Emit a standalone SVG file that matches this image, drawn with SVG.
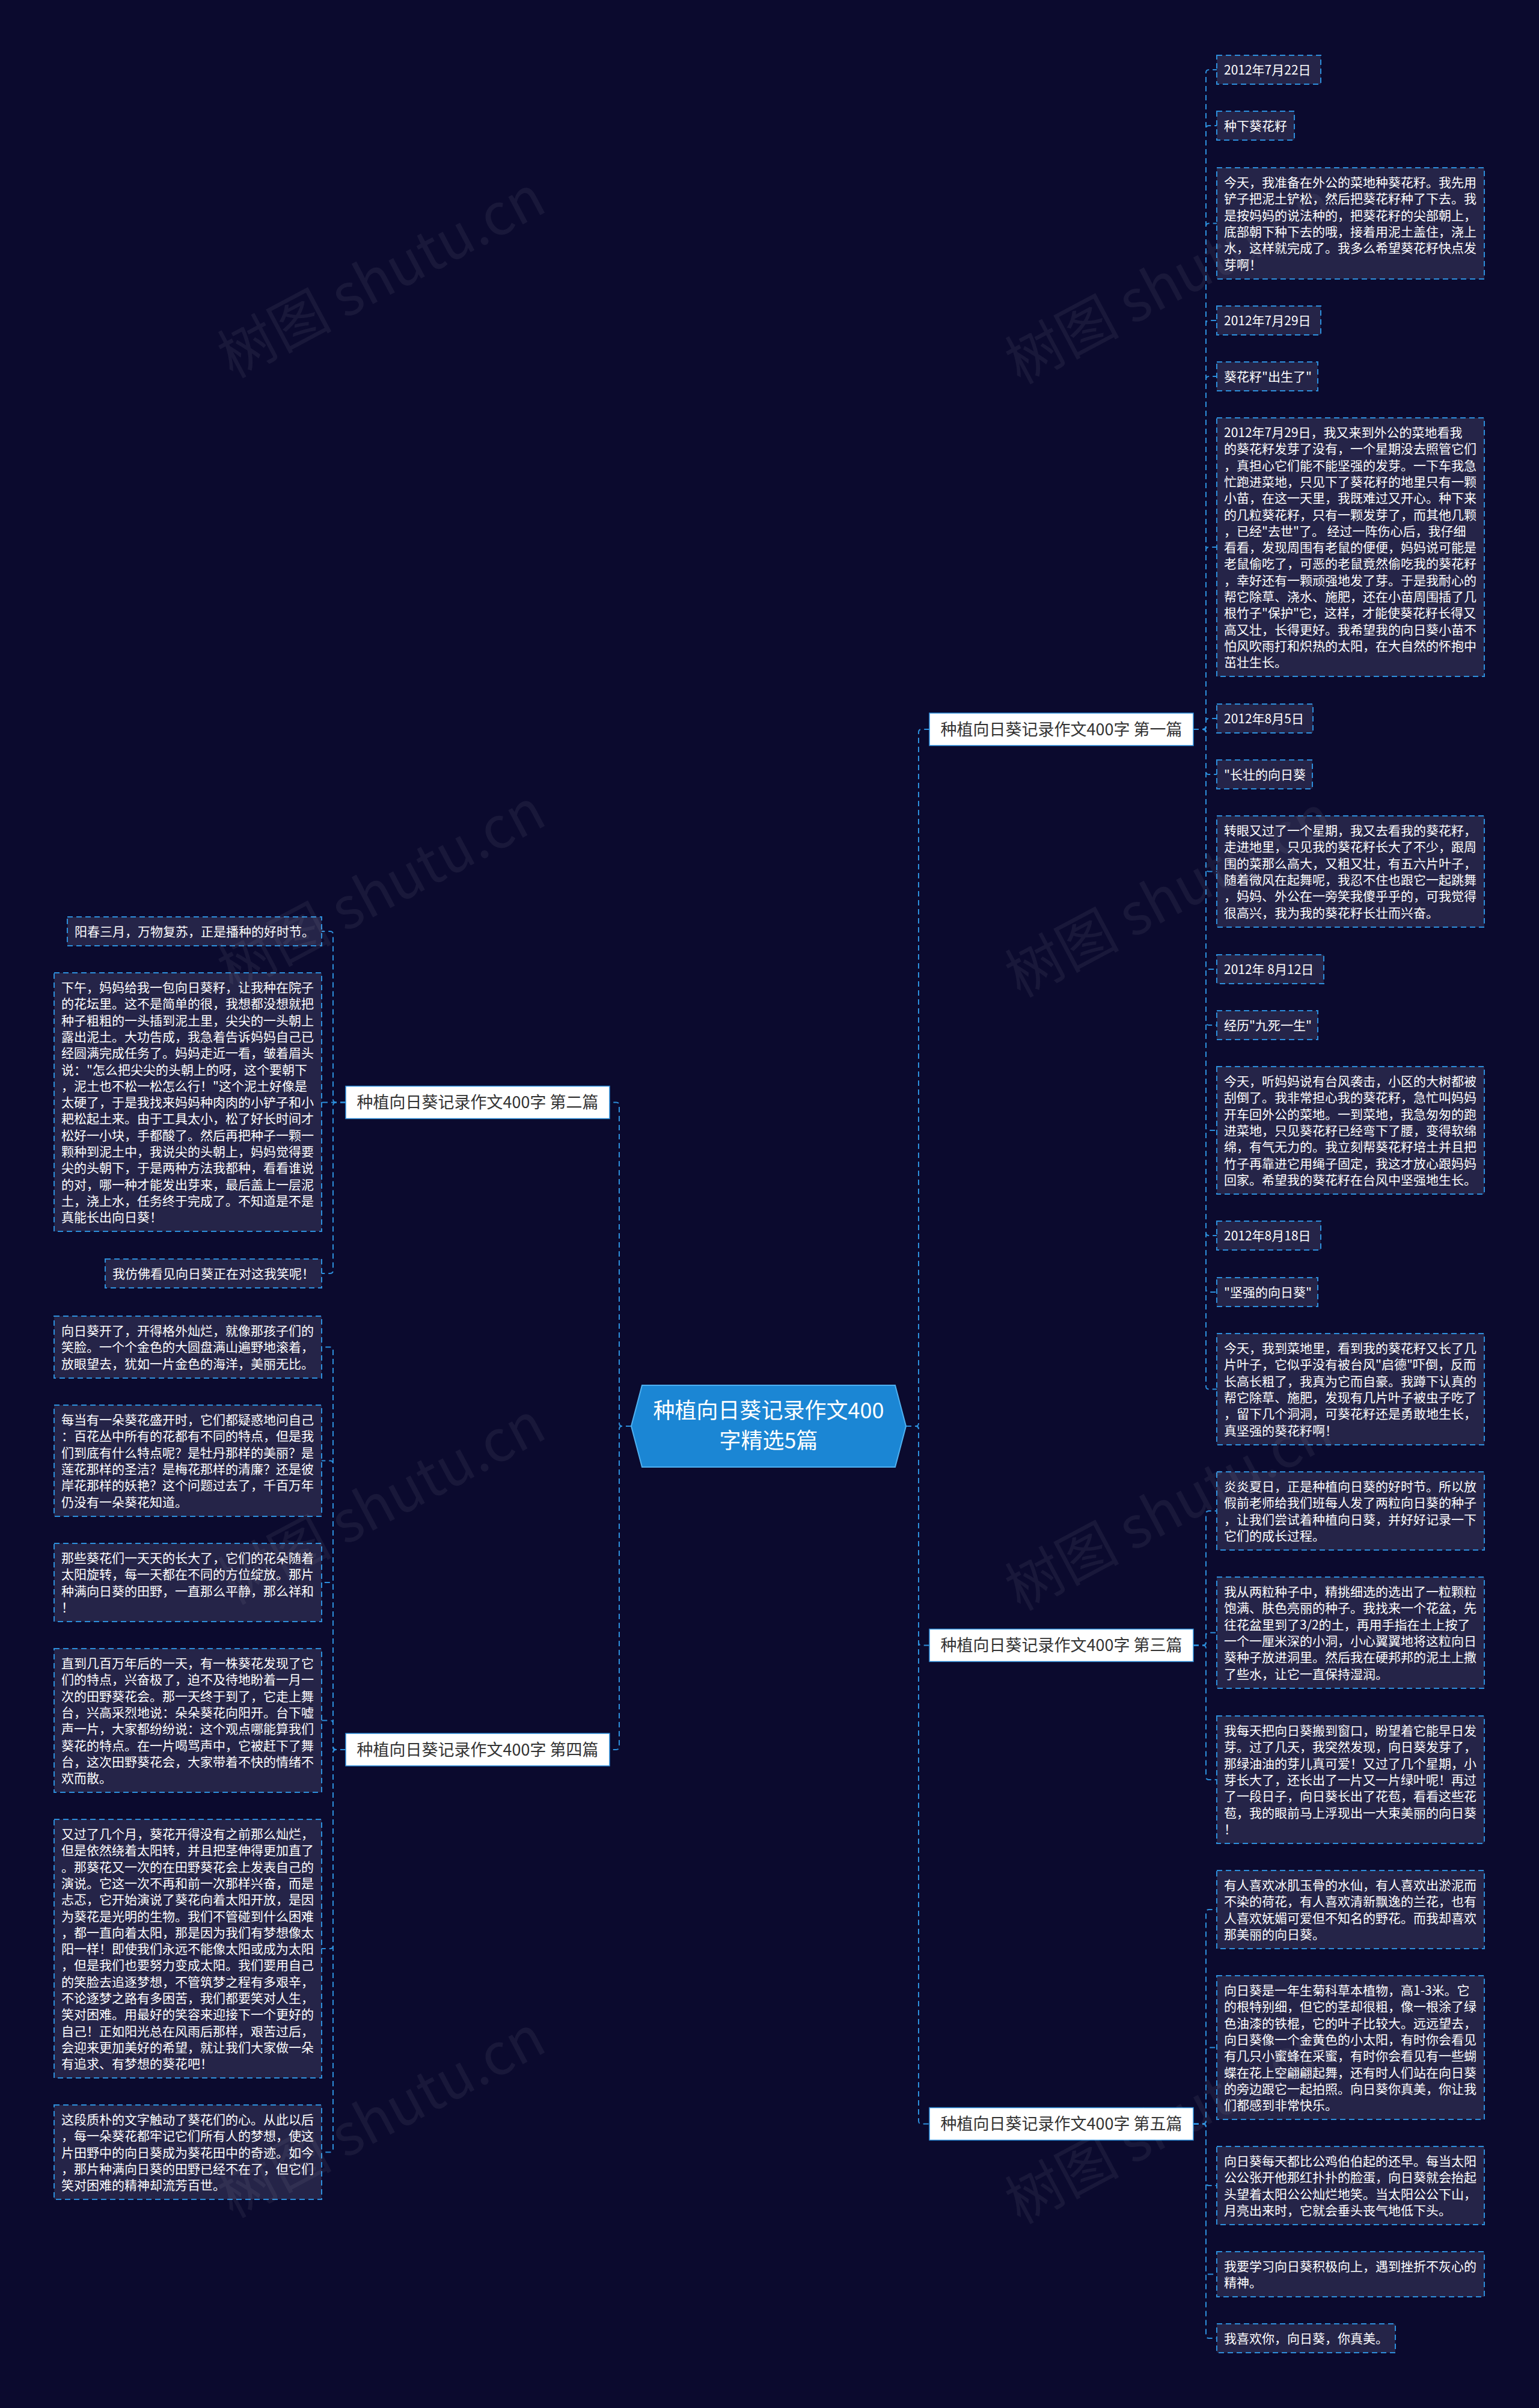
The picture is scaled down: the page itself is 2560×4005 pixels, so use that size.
<svg xmlns="http://www.w3.org/2000/svg" width="2560" height="4005" viewBox="0 0 2560 4005">
<style>
.bg{fill:#0b0a2e}
.box{fill:#252448;stroke:#2d8fdc;stroke-width:2;stroke-dasharray:9 6}
.t{font-family:"Noto Sans CJK SC","Noto Sans",sans-serif;font-size:21px;fill:#ffffff}
.conn{fill:none;stroke:#2d8fdc;stroke-width:2;stroke-dasharray:9 6}
.br{fill:#ffffff;stroke:#2d8fdc;stroke-width:1.5}
.bt{font-family:"Noto Sans CJK SC","Noto Sans",sans-serif;font-size:27px;fill:#333333;text-anchor:middle}
.ct{font-family:"Noto Sans CJK SC","Noto Sans",sans-serif;font-size:36px;fill:#ffffff;text-anchor:middle}
.wm{font-family:"Noto Sans CJK SC","Noto Sans",sans-serif;font-size:95px;fill:#ffffff;fill-opacity:0.06}
</style>
<rect class="bg" x="0" y="0" width="2560" height="4005"/>

<g id="connectors">
<path class="conn" d="M1507,2372 H1523 Q1528,2372 1528,2367 V1218 Q1528,1213 1533,1213 H1546"/>
<path class="conn" d="M1507,2372 H1523 Q1528,2372 1528,2377 V2731.5 Q1528,2736.5 1533,2736.5 H1546"/>
<path class="conn" d="M1507,2372 H1523 Q1528,2372 1528,2377 V3527.5 Q1528,3532.5 1533,3532.5 H1546"/>
<path class="conn" d="M1050,2372 H1035 Q1030,2372 1030,2367 V1838.5 Q1030,1833.5 1025,1833.5 H1014"/>
<path class="conn" d="M1050,2372 H1035 Q1030,2372 1030,2377 V2905 Q1030,2910 1025,2910 H1014"/>
<path class="conn" d="M1985,1213 H2001 Q2006,1213 2006,1208 V121 Q2006,116 2011,116 H2024"/>
<path class="conn" d="M1985,1213 H2001 Q2006,1213 2006,1208 V214 Q2006,209 2011,209 H2024"/>
<path class="conn" d="M1985,1213 H2001 Q2006,1213 2006,1208 V376.5 Q2006,371.5 2011,371.5 H2024"/>
<path class="conn" d="M1985,1213 H2001 Q2006,1213 2006,1208 V538 Q2006,533 2011,533 H2024"/>
<path class="conn" d="M1985,1213 H2001 Q2006,1213 2006,1208 V631 Q2006,626 2011,626 H2024"/>
<path class="conn" d="M1985,1213 H2001 Q2006,1213 2006,1208 V915 Q2006,910 2011,910 H2024"/>
<path class="conn" d="M1985,1213 H2001 Q2006,1213 2006,1208 V1200 Q2006,1195 2011,1195 H2024"/>
<path class="conn" d="M1985,1213 H2001 Q2006,1213 2006,1218 V1283 Q2006,1288 2011,1288 H2024"/>
<path class="conn" d="M1985,1213 H2001 Q2006,1213 2006,1218 V1444.5 Q2006,1449.5 2011,1449.5 H2024"/>
<path class="conn" d="M1985,1213 H2001 Q2006,1213 2006,1218 V1607 Q2006,1612 2011,1612 H2024"/>
<path class="conn" d="M1985,1213 H2001 Q2006,1213 2006,1218 V1700 Q2006,1705 2011,1705 H2024"/>
<path class="conn" d="M1985,1213 H2001 Q2006,1213 2006,1218 V1875 Q2006,1880 2011,1880 H2024"/>
<path class="conn" d="M1985,1213 H2001 Q2006,1213 2006,1218 V2050 Q2006,2055 2011,2055 H2024"/>
<path class="conn" d="M1985,1213 H2001 Q2006,1213 2006,1218 V2144 Q2006,2149 2011,2149 H2024"/>
<path class="conn" d="M1985,1213 H2001 Q2006,1213 2006,1218 V2305.5 Q2006,2310.5 2011,2310.5 H2024"/>
<path class="conn" d="M1985,2736.5 H2001 Q2006,2736.5 2006,2731.5 V2518 Q2006,2513 2011,2513 H2024"/>
<path class="conn" d="M1985,2736.5 H2001 Q2006,2736.5 2006,2731.5 V2720.5 Q2006,2715.5 2011,2715.5 H2024"/>
<path class="conn" d="M1985,2736.5 H2001 Q2006,2736.5 2006,2741.5 V2955 Q2006,2960 2011,2960 H2024"/>
<path class="conn" d="M1985,3532.5 H2001 Q2006,3532.5 2006,3527.5 V3181 Q2006,3176 2011,3176 H2024"/>
<path class="conn" d="M1985,3532.5 H2001 Q2006,3532.5 2006,3527.5 V3410.5 Q2006,3405.5 2011,3405.5 H2024"/>
<path class="conn" d="M1985,3532.5 H2001 Q2006,3532.5 2006,3537.5 V3630 Q2006,3635 2011,3635 H2024"/>
<path class="conn" d="M1985,3532.5 H2001 Q2006,3532.5 2006,3537.5 V3777.5 Q2006,3782.5 2011,3782.5 H2024"/>
<path class="conn" d="M1985,3532.5 H2001 Q2006,3532.5 2006,3537.5 V3884 Q2006,3889 2011,3889 H2024"/>
<path class="conn" d="M575,1833.5 H559 Q554,1833.5 554,1828.5 V1554 Q554,1549 549,1549 H535"/>
<path class="conn" d="M575,1833.5 H535"/>
<path class="conn" d="M575,1833.5 H559 Q554,1833.5 554,1838.5 V2113 Q554,2118 549,2118 H535"/>
<path class="conn" d="M575,2910 H559 Q554,2910 554,2905 V2245.5 Q554,2240.5 549,2240.5 H535"/>
<path class="conn" d="M575,2910 H559 Q554,2910 554,2905 V2434.5 Q554,2429.5 549,2429.5 H535"/>
<path class="conn" d="M575,2910 H559 Q554,2910 554,2905 V2637 Q554,2632 549,2632 H535"/>
<path class="conn" d="M575,2910 H559 Q554,2910 554,2905 V2866.5 Q554,2861.5 549,2861.5 H535"/>
<path class="conn" d="M575,2910 H559 Q554,2910 554,2915 V3236 Q554,3241 549,3241 H535"/>
<path class="conn" d="M575,2910 H559 Q554,2910 554,2915 V3574.5 Q554,3579.5 549,3579.5 H535"/>
</g>

<g id="center">
<polygon points="1050,2372 1068,2304 1489,2304 1507,2372 1489,2440 1068,2440" fill="#1b86d4" stroke="#4fb0f0" stroke-width="2"/>
<text class="ct" x="1278.5" y="2359">种植向日葵记录作文400</text>
<text class="ct" x="1278.5" y="2409">字精选5篇</text>
</g>

<g id="branch1"><rect class="br" x="1546" y="1186" width="439" height="54"/><text class="bt" x="1765.5" y="1222.5">种植向日葵记录作文400字 第一篇</text></g>
<g id="branch3"><rect class="br" x="1546" y="2709.5" width="439" height="54"/><text class="bt" x="1765.5" y="2746">种植向日葵记录作文400字 第三篇</text></g>
<g id="branch5"><rect class="br" x="1546" y="3505.5" width="439" height="54"/><text class="bt" x="1765.5" y="3542">种植向日葵记录作文400字 第五篇</text></g>
<g id="branch2"><rect class="br" x="575" y="1806.5" width="439" height="54"/><text class="bt" x="794.5" y="1843">种植向日葵记录作文400字 第二篇</text></g>
<g id="branch4"><rect class="br" x="575" y="2883" width="439" height="54"/><text class="bt" x="794.5" y="2919.5">种植向日葵记录作文400字 第四篇</text></g>

<g id="r1"><rect class="box" x="2024" y="92" width="173" height="48"/><text class="t" x="2036" y="124">2012年7月22日</text></g>
<g id="r2"><rect class="box" x="2024" y="185" width="129" height="48"/><text class="t" x="2036" y="217">种下葵花籽</text></g>
<g id="r3"><rect class="box" x="2024" y="279" width="445" height="185"/><text class="t" x="2036" y="311"><tspan x="2036">今天，我准备在外公的菜地种葵花籽。我先用</tspan><tspan x="2036" dy="27.3">铲子把泥土铲松，然后把葵花籽种了下去。我</tspan><tspan x="2036" dy="27.3">是按妈妈的说法种的，把葵花籽的尖部朝上，</tspan><tspan x="2036" dy="27.3">底部朝下种下去的哦，接着用泥土盖住，浇上</tspan><tspan x="2036" dy="27.3">水，这样就完成了。我多么希望葵花籽快点发</tspan><tspan x="2036" dy="27.3">芽啊！</tspan></text></g>
<g id="r4"><rect class="box" x="2024" y="509" width="173" height="48"/><text class="t" x="2036" y="541">2012年7月29日</text></g>
<g id="r5"><rect class="box" x="2024" y="602" width="168" height="48"/><text class="t" x="2036" y="634">葵花籽"出生了"</text></g>
<g id="r6"><rect class="box" x="2024" y="695" width="445" height="430"/><text class="t" x="2036" y="727"><tspan x="2036">2012年7月29日，我又来到外公的菜地看我</tspan><tspan x="2036" dy="27.3">的葵花籽发芽了没有，一个星期没去照管它们</tspan><tspan x="2036" dy="27.3">，真担心它们能不能坚强的发芽。一下车我急</tspan><tspan x="2036" dy="27.3">忙跑进菜地，只见下了葵花籽的地里只有一颗</tspan><tspan x="2036" dy="27.3">小苗，在这一天里，我既难过又开心。种下来</tspan><tspan x="2036" dy="27.3">的几粒葵花籽，只有一颗发芽了，而其他几颗</tspan><tspan x="2036" dy="27.3">，已经"去世"了。 经过一阵伤心后，我仔细</tspan><tspan x="2036" dy="27.3">看看，发现周围有老鼠的便便，妈妈说可能是</tspan><tspan x="2036" dy="27.3">老鼠偷吃了，可恶的老鼠竟然偷吃我的葵花籽</tspan><tspan x="2036" dy="27.3">，幸好还有一颗顽强地发了芽。于是我耐心的</tspan><tspan x="2036" dy="27.3">帮它除草、浇水、施肥，还在小苗周围插了几</tspan><tspan x="2036" dy="27.3">根竹子"保护"它，这样，才能使葵花籽长得又</tspan><tspan x="2036" dy="27.3">高又壮，长得更好。我希望我的向日葵小苗不</tspan><tspan x="2036" dy="27.3">怕风吹雨打和炽热的太阳，在大自然的怀抱中</tspan><tspan x="2036" dy="27.3">茁壮生长。</tspan></text></g>
<g id="r7"><rect class="box" x="2024" y="1171" width="160" height="48"/><text class="t" x="2036" y="1203">2012年8月5日</text></g>
<g id="r8"><rect class="box" x="2024" y="1264" width="159" height="48"/><text class="t" x="2036" y="1296">"长壮的向日葵</text></g>
<g id="r9"><rect class="box" x="2024" y="1357" width="445" height="185"/><text class="t" x="2036" y="1389"><tspan x="2036">转眼又过了一个星期，我又去看我的葵花籽，</tspan><tspan x="2036" dy="27.3">走进地里，只见我的葵花籽长大了不少，跟周</tspan><tspan x="2036" dy="27.3">围的菜那么高大，又粗又壮，有五六片叶子，</tspan><tspan x="2036" dy="27.3">随着微风在起舞呢，我忍不住也跟它一起跳舞</tspan><tspan x="2036" dy="27.3">，妈妈、外公在一旁笑我傻乎乎的，可我觉得</tspan><tspan x="2036" dy="27.3">很高兴，我为我的葵花籽长壮而兴奋。</tspan></text></g>
<g id="r10"><rect class="box" x="2024" y="1588" width="178" height="48"/><text class="t" x="2036" y="1620">2012年 8月12日</text></g>
<g id="r11"><rect class="box" x="2024" y="1681" width="168" height="48"/><text class="t" x="2036" y="1713">经历"九死一生"</text></g>
<g id="r12"><rect class="box" x="2024" y="1774" width="445" height="212"/><text class="t" x="2036" y="1806"><tspan x="2036">今天，听妈妈说有台风袭击，小区的大树都被</tspan><tspan x="2036" dy="27.3">刮倒了。我非常担心我的葵花籽，急忙叫妈妈</tspan><tspan x="2036" dy="27.3">开车回外公的菜地。一到菜地，我急匆匆的跑</tspan><tspan x="2036" dy="27.3">进菜地，只见葵花籽已经弯下了腰，变得软绵</tspan><tspan x="2036" dy="27.3">绵，有气无力的。我立刻帮葵花籽培土并且把</tspan><tspan x="2036" dy="27.3">竹子再靠进它用绳子固定，我这才放心跟妈妈</tspan><tspan x="2036" dy="27.3">回家。希望我的葵花籽在台风中坚强地生长。</tspan></text></g>
<g id="r13"><rect class="box" x="2024" y="2031" width="173" height="48"/><text class="t" x="2036" y="2063">2012年8月18日</text></g>
<g id="r14"><rect class="box" x="2024" y="2125" width="168" height="48"/><text class="t" x="2036" y="2157">"坚强的向日葵"</text></g>
<g id="r15"><rect class="box" x="2024" y="2218" width="445" height="185"/><text class="t" x="2036" y="2250"><tspan x="2036">今天，我到菜地里，看到我的葵花籽又长了几</tspan><tspan x="2036" dy="27.3">片叶子，它似乎没有被台风"启德"吓倒，反而</tspan><tspan x="2036" dy="27.3">长高长粗了，我真为它而自豪。我蹲下认真的</tspan><tspan x="2036" dy="27.3">帮它除草、施肥，发现有几片叶子被虫子吃了</tspan><tspan x="2036" dy="27.3">，留下几个洞洞，可葵花籽还是勇敢地生长，</tspan><tspan x="2036" dy="27.3">真坚强的葵花籽啊！</tspan></text></g>

<g id="r16"><rect class="box" x="2024" y="2448" width="445" height="130"/><text class="t" x="2036" y="2480"><tspan x="2036">炎炎夏日，正是种植向日葵的好时节。所以放</tspan><tspan x="2036" dy="27.3">假前老师给我们班每人发了两粒向日葵的种子</tspan><tspan x="2036" dy="27.3">，让我们尝试着种植向日葵，并好好记录一下</tspan><tspan x="2036" dy="27.3">它们的成长过程。</tspan></text></g>
<g id="r17"><rect class="box" x="2024" y="2623" width="445" height="185"/><text class="t" x="2036" y="2655"><tspan x="2036">我从两粒种子中，精挑细选的选出了一粒颗粒</tspan><tspan x="2036" dy="27.3">饱满、肤色亮丽的种子。我找来一个花盆，先</tspan><tspan x="2036" dy="27.3">往花盆里到了3/2的土，再用手指在土上按了</tspan><tspan x="2036" dy="27.3">一个一厘米深的小洞，小心翼翼地将这粒向日</tspan><tspan x="2036" dy="27.3">葵种子放进洞里。然后我在硬邦邦的泥土上撒</tspan><tspan x="2036" dy="27.3">了些水，让它一直保持湿润。</tspan></text></g>
<g id="r18"><rect class="box" x="2024" y="2854" width="445" height="212"/><text class="t" x="2036" y="2886"><tspan x="2036">我每天把向日葵搬到窗口，盼望着它能早日发</tspan><tspan x="2036" dy="27.3">芽。过了几天，我突然发现，向日葵发芽了，</tspan><tspan x="2036" dy="27.3">那绿油油的芽儿真可爱！又过了几个星期，小</tspan><tspan x="2036" dy="27.3">芽长大了，还长出了一片又一片绿叶呢！再过</tspan><tspan x="2036" dy="27.3">了一段日子，向日葵长出了花苞，看看这些花</tspan><tspan x="2036" dy="27.3">苞，我的眼前马上浮现出一大束美丽的向日葵</tspan><tspan x="2036" dy="27.3">！</tspan></text></g>

<g id="r19"><rect class="box" x="2024" y="3111" width="445" height="130"/><text class="t" x="2036" y="3143"><tspan x="2036">有人喜欢冰肌玉骨的水仙，有人喜欢出淤泥而</tspan><tspan x="2036" dy="27.3">不染的荷花，有人喜欢清新飘逸的兰花，也有</tspan><tspan x="2036" dy="27.3">人喜欢妩媚可爱但不知名的野花。而我却喜欢</tspan><tspan x="2036" dy="27.3">那美丽的向日葵。</tspan></text></g>
<g id="r20"><rect class="box" x="2024" y="3286" width="445" height="239"/><text class="t" x="2036" y="3318"><tspan x="2036">向日葵是一年生菊科草本植物，高1-3米。它</tspan><tspan x="2036" dy="27.3">的根特别细，但它的茎却很粗，像一根涂了绿</tspan><tspan x="2036" dy="27.3">色油漆的铁棍，它的叶子比较大。远远望去，</tspan><tspan x="2036" dy="27.3">向日葵像一个金黄色的小太阳，有时你会看见</tspan><tspan x="2036" dy="27.3">有几只小蜜蜂在采蜜，有时你会看见有一些蝴</tspan><tspan x="2036" dy="27.3">蝶在花上空翩翩起舞，还有时人们站在向日葵</tspan><tspan x="2036" dy="27.3">的旁边跟它一起拍照。向日葵你真美，你让我</tspan><tspan x="2036" dy="27.3">们都感到非常快乐。</tspan></text></g>
<g id="r21"><rect class="box" x="2024" y="3570" width="445" height="130"/><text class="t" x="2036" y="3602"><tspan x="2036">向日葵每天都比公鸡伯伯起的还早。每当太阳</tspan><tspan x="2036" dy="27.3">公公张开他那红扑扑的脸蛋，向日葵就会抬起</tspan><tspan x="2036" dy="27.3">头望着太阳公公灿烂地笑。当太阳公公下山，</tspan><tspan x="2036" dy="27.3">月亮出来时，它就会垂头丧气地低下头。</tspan></text></g>
<g id="r22"><rect class="box" x="2024" y="3745" width="445" height="75"/><text class="t" x="2036" y="3777"><tspan x="2036">我要学习向日葵积极向上，遇到挫折不灰心的</tspan><tspan x="2036" dy="27.3">精神。</tspan></text></g>
<g id="r23"><rect class="box" x="2024" y="3865" width="297" height="48"/><text class="t" x="2036" y="3897">我喜欢你，向日葵，你真美。</text></g>

<g id="l1"><rect class="box" x="112" y="1525" width="423" height="48"/><text class="t" x="124" y="1557">阳春三月，万物复苏，正是播种的好时节。</text></g>
<g id="l2"><rect class="box" x="90" y="1618" width="445" height="430"/><text class="t" x="102" y="1650"><tspan x="102">下午，妈妈给我一包向日葵籽，让我种在院子</tspan><tspan x="102" dy="27.3">的花坛里。这不是简单的很，我想都没想就把</tspan><tspan x="102" dy="27.3">种子粗粗的一头插到泥土里，尖尖的一头朝上</tspan><tspan x="102" dy="27.3">露出泥土。大功告成，我急着告诉妈妈自己已</tspan><tspan x="102" dy="27.3">经圆满完成任务了。妈妈走近一看，皱着眉头</tspan><tspan x="102" dy="27.3">说："怎么把尖尖的头朝上的呀，这个要朝下</tspan><tspan x="102" dy="27.3">，泥土也不松一松怎么行！"这个泥土好像是</tspan><tspan x="102" dy="27.3">太硬了，于是我找来妈妈种肉肉的小铲子和小</tspan><tspan x="102" dy="27.3">耙松起土来。由于工具太小，松了好长时间才</tspan><tspan x="102" dy="27.3">松好一小块，手都酸了。然后再把种子一颗一</tspan><tspan x="102" dy="27.3">颗种到泥土中，我说尖的头朝上，妈妈觉得要</tspan><tspan x="102" dy="27.3">尖的头朝下，于是两种方法我都种，看看谁说</tspan><tspan x="102" dy="27.3">的对，哪一种才能发出芽来，最后盖上一层泥</tspan><tspan x="102" dy="27.3">土，浇上水，任务终于完成了。不知道是不是</tspan><tspan x="102" dy="27.3">真能长出向日葵！</tspan></text></g>
<g id="l3"><rect class="box" x="175" y="2094" width="360" height="48"/><text class="t" x="187" y="2126">我仿佛看见向日葵正在对这我笑呢！</text></g>

<g id="l4"><rect class="box" x="90" y="2189" width="445" height="103"/><text class="t" x="102" y="2221"><tspan x="102">向日葵开了，开得格外灿烂，就像那孩子们的</tspan><tspan x="102" dy="27.3">笑脸。一个个金色的大圆盘满山遍野地滚着，</tspan><tspan x="102" dy="27.3">放眼望去，犹如一片金色的海洋，美丽无比。</tspan></text></g>
<g id="l5"><rect class="box" x="90" y="2337" width="445" height="185"/><text class="t" x="102" y="2369"><tspan x="102">每当有一朵葵花盛开时，它们都疑惑地问自己</tspan><tspan x="102" dy="27.3">：百花丛中所有的花都有不同的特点，但是我</tspan><tspan x="102" dy="27.3">们到底有什么特点呢？是牡丹那样的美丽？是</tspan><tspan x="102" dy="27.3">莲花那样的圣洁？是梅花那样的清廉？还是彼</tspan><tspan x="102" dy="27.3">岸花那样的妖艳？这个问题过去了，千百万年</tspan><tspan x="102" dy="27.3">仍没有一朵葵花知道。</tspan></text></g>
<g id="l6"><rect class="box" x="90" y="2567" width="445" height="130"/><text class="t" x="102" y="2599"><tspan x="102">那些葵花们一天天的长大了，它们的花朵随着</tspan><tspan x="102" dy="27.3">太阳旋转，每一天都在不同的方位绽放。那片</tspan><tspan x="102" dy="27.3">种满向日葵的田野，一直那么平静，那么祥和</tspan><tspan x="102" dy="27.3">！</tspan></text></g>
<g id="l7"><rect class="box" x="90" y="2742" width="445" height="239"/><text class="t" x="102" y="2774"><tspan x="102">直到几百万年后的一天，有一株葵花发现了它</tspan><tspan x="102" dy="27.3">们的特点，兴奋极了，迫不及待地盼着一月一</tspan><tspan x="102" dy="27.3">次的田野葵花会。那一天终于到了，它走上舞</tspan><tspan x="102" dy="27.3">台，兴高采烈地说：朵朵葵花向阳开。台下嘘</tspan><tspan x="102" dy="27.3">声一片，大家都纷纷说：这个观点哪能算我们</tspan><tspan x="102" dy="27.3">葵花的特点。在一片喝骂声中，它被赶下了舞</tspan><tspan x="102" dy="27.3">台，这次田野葵花会，大家带着不快的情绪不</tspan><tspan x="102" dy="27.3">欢而散。</tspan></text></g>
<g id="l8"><rect class="box" x="90" y="3026" width="445" height="430"/><text class="t" x="102" y="3058"><tspan x="102">又过了几个月，葵花开得没有之前那么灿烂，</tspan><tspan x="102" dy="27.3">但是依然绕着太阳转，并且把茎伸得更加直了</tspan><tspan x="102" dy="27.3">。那葵花又一次的在田野葵花会上发表自己的</tspan><tspan x="102" dy="27.3">演说。它这一次不再和前一次那样兴奋，而是</tspan><tspan x="102" dy="27.3">忐忑，它开始演说了葵花向着太阳开放，是因</tspan><tspan x="102" dy="27.3">为葵花是光明的生物。我们不管碰到什么困难</tspan><tspan x="102" dy="27.3">，都一直向着太阳，那是因为我们有梦想像太</tspan><tspan x="102" dy="27.3">阳一样！即使我们永远不能像太阳或成为太阳</tspan><tspan x="102" dy="27.3">，但是我们也要努力变成太阳。我们要用自己</tspan><tspan x="102" dy="27.3">的笑脸去追逐梦想，不管筑梦之程有多艰辛，</tspan><tspan x="102" dy="27.3">不论逐梦之路有多困苦，我们都要笑对人生，</tspan><tspan x="102" dy="27.3">笑对困难。用最好的笑容来迎接下一个更好的</tspan><tspan x="102" dy="27.3">自己！正如阳光总在风雨后那样，艰苦过后，</tspan><tspan x="102" dy="27.3">会迎来更加美好的希望，就让我们大家做一朵</tspan><tspan x="102" dy="27.3">有追求、有梦想的葵花吧！</tspan></text></g>
<g id="l9"><rect class="box" x="90" y="3501" width="445" height="157"/><text class="t" x="102" y="3533"><tspan x="102">这段质朴的文字触动了葵花们的心。从此以后</tspan><tspan x="102" dy="27.3">，每一朵葵花都牢记它们所有人的梦想，使这</tspan><tspan x="102" dy="27.3">片田野中的向日葵成为葵花田中的奇迹。如今</tspan><tspan x="102" dy="27.3">，那片种满向日葵的田野已经不在了，但它们</tspan><tspan x="102" dy="27.3">笑对困难的精神却流芳百世。</tspan></text></g>

<g id="watermarks">
<text class="wm" transform="translate(650,490) rotate(-28)" text-anchor="middle">树图 shutu.cn</text>
<text class="wm" transform="translate(1960,500) rotate(-28)" text-anchor="middle">树图 shutu.cn</text>
<text class="wm" transform="translate(650,1510) rotate(-28)" text-anchor="middle">树图 shutu.cn</text>
<text class="wm" transform="translate(1960,1520) rotate(-28)" text-anchor="middle">树图 shutu.cn</text>
<text class="wm" transform="translate(650,2530) rotate(-28)" text-anchor="middle">树图 shutu.cn</text>
<text class="wm" transform="translate(1960,2540) rotate(-28)" text-anchor="middle">树图 shutu.cn</text>
<text class="wm" transform="translate(650,3550) rotate(-28)" text-anchor="middle">树图 shutu.cn</text>
<text class="wm" transform="translate(1960,3560) rotate(-28)" text-anchor="middle">树图 shutu.cn</text>
</g>
</svg>
